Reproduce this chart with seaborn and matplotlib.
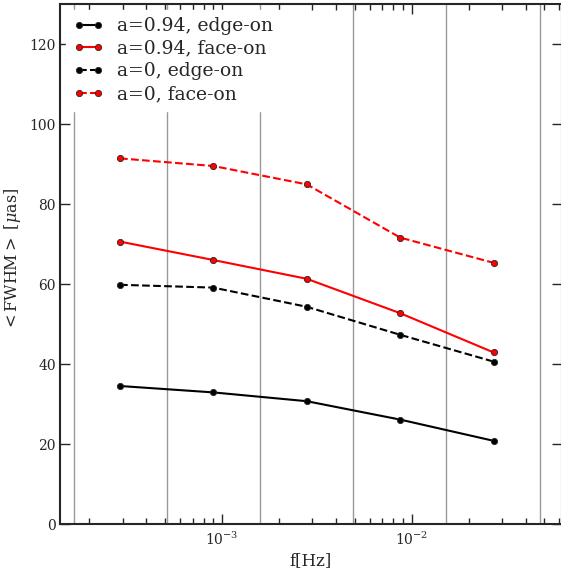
import pandas as pd
import matplotlib
matplotlib.use("Agg")
import matplotlib.pyplot as plt
import seaborn as sns

# frequencies of the bins [Hz]
freq = [2.9e-4, 9.0e-4, 2.8e-3, 8.7e-3, 2.7e-2]
# bin edges (vertical grey lines)
edges = [1.65e-4, 5.1e-4, 1.58e-3, 4.9e-3, 1.52e-2, 4.75e-2]

fwhm_094_edge = [34.5, 32.9, 30.7, 26.1, 20.8]
fwhm_094_face = [70.6, 66.0, 61.3, 52.7, 42.9]
fwhm_0_edge = [59.8, 59.1, 54.3, 47.3, 40.6]
fwhm_0_face = [91.4, 89.5, 84.9, 71.6, 65.3]

series = [
    ("a=0.94, edge-on", fwhm_094_edge, "black", "-"),
    ("a=0.94, face-on", fwhm_094_face, "red", "-"),
    ("a=0, edge-on", fwhm_0_edge, "black", "--"),
    ("a=0, face-on", fwhm_0_face, "red", "--"),
]

sns.set_style("ticks")
plt.rcParams["font.family"] = ["DejaVu Serif"]
plt.rcParams["mathtext.fontset"] = "dejavuserif"

fig = plt.figure(figsize=(5.61, 5.69), dpi=100)
ax = fig.add_axes([60 / 561, 45 / 569, 502 / 561, 520 / 569])

for e in edges:
    ax.axvline(e, color="0.6", lw=1, zorder=0)

for label, vals, col, ls in series:
    df = pd.DataFrame({"f": freq, "fwhm": vals})
    sns.lineplot(data=df, x="f", y="fwhm", ax=ax, color=col, linestyle=ls,
                 lw=1.5, marker="o", markersize=4.5, mec="0.15", mew=0.6,
                 label=label)

ax.set_xscale("log")
ax.set_xlim(1.4e-4, 6.2e-2)
ax.set_ylim(0, 130)
ax.set_yticks([0, 20, 40, 60, 80, 100, 120])
ax.set_xlabel("f[Hz]", fontsize=12, labelpad=3)
ax.set_ylabel(r"$<$FWHM$>$ [$\mu$as]", fontsize=11.5)
ax.yaxis.set_label_coords(-0.074, 0.508)

ax.tick_params(which="both", direction="in", top=True, right=True,
               labelsize=10)
ax.tick_params(which="major", length=7, width=1)
ax.tick_params(axis="x", which="major", pad=5)
ax.tick_params(axis="y", which="major", pad=3)
ax.tick_params(which="minor", length=4, width=1)
for s in ax.spines.values():
    s.set_linewidth(1.5)

leg = ax.legend(loc="upper left", fontsize=13.5, numpoints=2, frameon=True,
                fancybox=False, framealpha=1, edgecolor="white",
                borderaxespad=0.3, handlelength=1.6, handletextpad=0.75,
                labelspacing=0.25)

plt.savefig("out.png", dpi=100)
plt.close()
